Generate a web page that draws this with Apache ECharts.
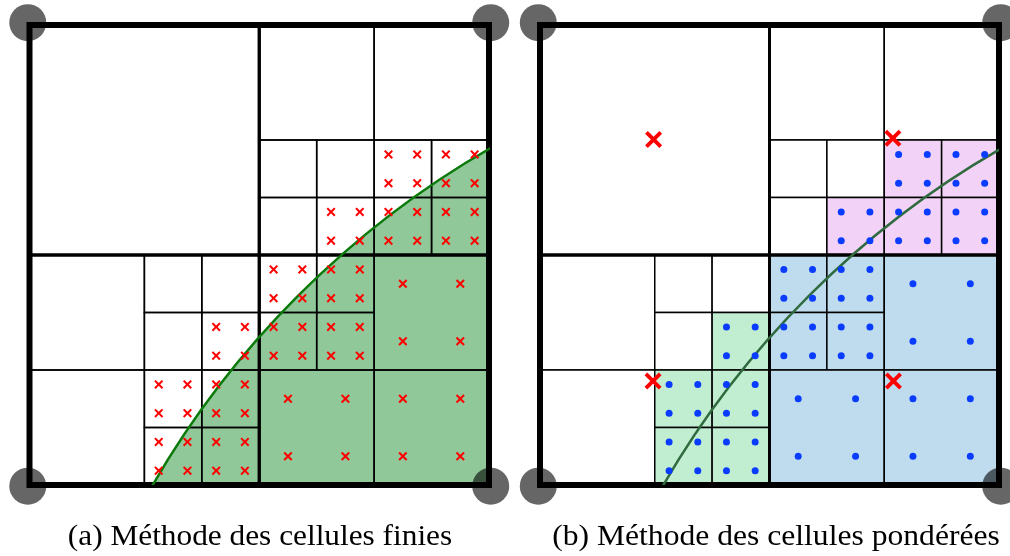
<!DOCTYPE html>
<html>
<head>
<meta charset="utf-8">
<script src="https://cdn.jsdelivr.net/npm/echarts@6/dist/echarts.min.js"></script>
<style>
  html, body { margin: 0; padding: 0; background: #fff; }
  #chart { width: 1010px; height: 556px; }
</style>
</head>
<body>
<div id="chart"></div>
<script>
// quadtree leaf cells, [x, y, size] in domain units (domain is 8 x 8, y up)
const cells = [
  [0, 4, 4],
  [4, 6, 2], [6, 6, 2],
  [4, 5, 1], [5, 5, 1], [6, 5, 1], [7, 5, 1],
  [4, 4, 1], [5, 4, 1], [6, 4, 1], [7, 4, 1],
  [0, 2, 2], [0, 0, 2],
  [2, 3, 1], [3, 3, 1], [2, 2, 1], [3, 2, 1],
  [2, 1, 1], [3, 1, 1], [2, 0, 1], [3, 0, 1],
  [4, 3, 1], [5, 3, 1], [4, 2, 1], [5, 2, 1],
  [6, 2, 2], [4, 0, 2], [6, 0, 2]
]
const quadrants = [[0, 0, 4], [4, 0, 4], [0, 4, 4], [4, 4, 4]]
const frame = [[0, 0, 8]]

// cells cut by / inside the boundary, grouped like in panel (b)
const purpleCells = [[6, 5, 1], [7, 5, 1], [5, 4, 1], [6, 4, 1], [7, 4, 1]]
const blueCells = [[4, 3, 1], [5, 3, 1], [4, 2, 1], [5, 2, 1], [6, 2, 2], [4, 0, 2], [6, 0, 2]]
const greenCells = [[3, 2, 1], [2, 1, 1], [3, 1, 1], [2, 0, 1], [3, 0, 1]]
const activeCells = purpleCells.concat(blueCells, greenCells)

// integration points inside a cell (fraction of the cell size)
const quadOffsets = [0.25, 0.75]

// red crosses of panel (b)
const bigCrosses = [[1.98, 6.01], [6.15, 6.03], [1.97, 1.81], [6.16, 1.81]]
const corners = [[-0.03, -0.02], [8.03, -0.02], [-0.03, 8.04], [8.03, 8.04]]

// boundary: circle [cx, cy, r]
const boundaryCircle = [16, -8, 16]

const captions = ['(a) Méthode des cellules finies', '(b) Méthode des cellules pondérées']

const groupColors = { purple: '#f3d2f7', blue: '#bfdcee', green: '#c1edd1' }
const key = c => c.join(',')
const groupOf = {}
purpleCells.forEach(c => groupOf[key(c)] = 'purple')
blueCells.forEach(c => groupOf[key(c)] = 'blue')
greenCells.forEach(c => groupOf[key(c)] = 'green')

const points = []
activeCells.forEach(c => {
  quadOffsets.forEach(ox => {
    quadOffsets.forEach(oy => {
      points.push([c[0] + ox * c[2], c[1] + oy * c[2]])
    })
  })
})

const crossPath = 'path://M0,1.6L1.6,0L5,3.4L8.4,0L10,1.6L6.6,5L10,8.4L8.4,10L5,6.6L1.6,10L0,8.4L3.4,5Z'

function rectSeries (data, gi, lw, fillFn, z) {
  return {
    type: 'custom',
    xAxisIndex: gi,
    yAxisIndex: gi,
    z: z,
    silent: true,
    data: data,
    renderItem: function (params, api) {
      const x = api.value(0), y = api.value(1), s = api.value(2)
      const p = api.coord([x, y + s])
      const sz = api.size([s, s])
      return {
        type: 'rect',
        shape: { x: p[0], y: p[1], width: sz[0], height: sz[1] },
        style: { fill: fillFn ? fillFn(data[params.dataIndex]) : null, stroke: '#000', lineWidth: lw }
      }
    }
  }
}

function circleSeries (gi, style, z) {
  return {
    type: 'custom',
    xAxisIndex: gi,
    yAxisIndex: gi,
    z: z,
    clip: true,
    silent: true,
    data: [boundaryCircle],
    renderItem: function (params, api) {
      const c = api.coord([api.value(0), api.value(1)])
      const r = api.size([api.value(2), 0])[0]
      return { type: 'circle', shape: { cx: c[0], cy: c[1], r: r }, style: style }
    }
  }
}

const series = []
for (let gi = 0; gi < 2; gi++) {
  const fillFn = gi === 1 ? (c => groupColors[groupOf[key(c)]] || '#fff') : null
  series.push(rectSeries(cells, gi, 1.5, fillFn, 3))
  series.push(rectSeries(quadrants, gi, 3, null, 4))
  series.push(rectSeries(frame, gi, 6, null, 5))
  series.push({
    type: 'scatter', xAxisIndex: gi, yAxisIndex: gi, z: 8, silent: true, clip: false,
    symbol: 'circle', symbolSize: 37,
    itemStyle: { color: 'rgba(0,0,0,0.6)', opacity: 1 },
    data: corners
  })
}
// panel (a): filled region and boundary
series.push(circleSeries(0, { fill: '#90c899', stroke: null }, 2))
series.push(circleSeries(0, { fill: null, stroke: '#0b7a0b', lineWidth: 2.5 }, 6))
series.push({
  type: 'scatter', xAxisIndex: 0, yAxisIndex: 0, z: 7, silent: true,
  symbol: crossPath, symbolSize: 9,
  itemStyle: { color: '#ff0000', opacity: 1 },
  data: points
})
// panel (b)
series.push(circleSeries(1, { fill: null, stroke: '#2f6b3e', lineWidth: 2.5 }, 6))
series.push({
  type: 'scatter', xAxisIndex: 1, yAxisIndex: 1, z: 7, silent: true,
  symbol: 'circle', symbolSize: 7,
  itemStyle: { color: '#0a3cff', opacity: 1 },
  data: points
})
series.push({
  type: 'scatter', xAxisIndex: 1, yAxisIndex: 1, z: 7, silent: true, clip: false,
  symbol: crossPath, symbolSize: 17,
  itemStyle: { color: '#ff0000', opacity: 1 },
  data: bigCrosses
})

const axis = { type: 'value', min: 0, max: 8, show: false }
const captionFont = '29px "Liberation Serif"'

const chart = echarts.init(document.getElementById('chart'), null, { renderer: 'canvas' })
chart.setOption({
  animation: false,
  backgroundColor: '#fff',
  grid: [
    { left: 29.5, top: 25, width: 459.5, height: 460 },
    { left: 540, top: 25, width: 459, height: 460 }
  ],
  xAxis: [Object.assign({ gridIndex: 0 }, axis), Object.assign({ gridIndex: 1 }, axis)],
  yAxis: [Object.assign({ gridIndex: 0 }, axis), Object.assign({ gridIndex: 1 }, axis)],
  graphic: [
    { type: 'text', x: 260, y: 537, scaleX: 1.08, silent: true,
      style: { text: captions[0], font: captionFont, fill: '#000', align: 'center', verticalAlign: 'middle' } },
    { type: 'text', x: 776, y: 537, scaleX: 1.09, silent: true,
      style: { text: captions[1], font: captionFont, fill: '#000', align: 'center', verticalAlign: 'middle' } }
  ],
  series: series
})
</script>
</body>
</html>
